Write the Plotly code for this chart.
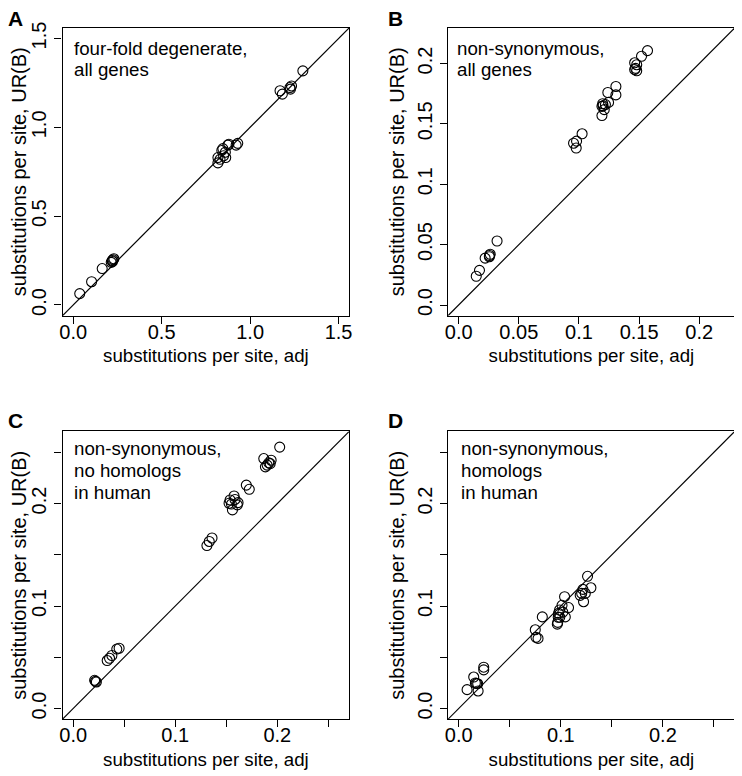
import plotly.graph_objects as go

# ---------------- data ----------------
a_adj = [0.037, 0.104, 0.164, 0.215, 0.220, 0.225, 0.230, 0.222,
         0.818, 0.818, 0.830, 0.850, 0.846, 0.860, 0.874, 0.880, 0.921, 0.930, 0.862, 0.840,
         1.169, 1.182, 1.225, 1.234, 1.228, 1.298]
a_urb = [0.064, 0.131, 0.205, 0.240, 0.250, 0.255, 0.260, 0.245,
         0.800, 0.830, 0.820, 0.840, 0.880, 0.860, 0.900, 0.905, 0.900, 0.910, 0.830, 0.870,
         1.206, 1.187, 1.224, 1.233, 1.215, 1.318]

b_adj = [0.0146, 0.0173, 0.0220, 0.0256, 0.0262, 0.0255, 0.0319,
         0.0955, 0.0977, 0.0980, 0.1026,
         0.1191, 0.1191, 0.1197, 0.1210, 0.1200, 0.1220, 0.1246, 0.1240, 0.1307, 0.1307,
         0.1463, 0.1471, 0.1480, 0.1463, 0.1480, 0.1520, 0.1570]
b_urb = [0.0238, 0.0287, 0.0388, 0.0410, 0.0420, 0.0400, 0.0530,
         0.1340, 0.1300, 0.1357, 0.1418,
         0.1569, 0.1645, 0.1667, 0.1618, 0.1650, 0.1660, 0.1678, 0.1760, 0.1810, 0.1740,
         0.2006, 0.1960, 0.1940, 0.1950, 0.1990, 0.2060, 0.2107]

c_adj = [0.0210, 0.0227, 0.0218, 0.0333, 0.0356, 0.0379, 0.0427, 0.0450,
         0.1310, 0.1333, 0.1360,
         0.1527, 0.1537, 0.1560, 0.1576, 0.1585, 0.1608, 0.1615, 0.1550,
         0.1696, 0.1725,
         0.1867, 0.1883, 0.1900, 0.1916, 0.1939, 0.1930, 0.2023]
c_urb = [0.0275, 0.0259, 0.0265, 0.0468, 0.0490, 0.0517, 0.0580, 0.0588,
         0.1590, 0.1630, 0.1664,
         0.2003, 0.2035, 0.1938, 0.2074, 0.2040, 0.1987, 0.2009, 0.1995,
         0.2180, 0.2139,
         0.2439, 0.2358, 0.2375, 0.2397, 0.2423, 0.2390, 0.2551]

d_adj = [0.0082, 0.0147, 0.0163, 0.0186, 0.0190, 0.0175, 0.0245, 0.0245,
         0.0750, 0.0757, 0.0777, 0.0819,
         0.0966, 0.0970, 0.0978, 0.0988, 0.0975, 0.0990, 0.1012, 0.1037, 0.1044, 0.1076, 0.1020,
         0.1190, 0.1217, 0.1223, 0.1240, 0.1205, 0.1262, 0.1295]
d_urb = [0.0184, 0.0307, 0.0249, 0.0242, 0.0171, 0.0245, 0.0403, 0.0377,
         0.0768, 0.0694, 0.0684, 0.0894,
         0.0823, 0.0840, 0.0929, 0.0961, 0.0890, 0.0890, 0.1007, 0.1091, 0.0894, 0.0985, 0.0940,
         0.1104, 0.1162, 0.1042, 0.1123, 0.1123, 0.1290, 0.1178]

panel_letters = ["A", "B", "C", "D"]
panel_texts = [["four-fold degenerate,", "all genes"],
               ["non-synonymous,", "all genes"],
               ["non-synonymous,", "no homologs", "in human"],
               ["non-synonymous,", "homologs", "in human"]]

ticks_a = [0, 0.5, 1.0, 1.5]
labels_a = ["0.0", "0.5", "1.0", "1.5"]
ticks_b = [0, 0.05, 0.1, 0.15, 0.2]
labels_b = ["0.0", "0.05", "0.1", "0.15", "0.2"]
ticks_cd = [0, 0.05, 0.1, 0.15, 0.2, 0.25]
labels_cd = ["0.0", "", "0.1", "", "0.2", ""]

xlabel = "substitutions per site, adj"
ylabel = "substitutions per site, UR(B)"

# ---------------- layout geometry ----------------
# the page body adds an 8px margin, so the figure is drawn 8px smaller
OFF = 8
W, H = 742 - OFF, 776 - OFF
FONT = "Liberation Sans, Arial, Helvetica, sans-serif"
FS_TICK = 20
FS_TEXT = 18.7


def fx(p):
    return (p - OFF) / W


def fy(p):
    return 1 - (p - OFF) / H


# plot boxes in window pixels: (left, right, top, bottom)
boxes = [(60, 349, 22, 312), (448.7, 737.7, 22, 312),
         (60, 349, 428.7, 718.7), (448.7, 737.7, 428.7, 718.7)]
ranges = [(-0.06, 1.56), (-0.0088, 0.2295), (-0.0104, 0.2704), (-0.0104, 0.2704)]
ticks = [(ticks_a, labels_a), (ticks_b, labels_b), (ticks_cd, labels_cd), (ticks_cd, labels_cd)]
data = [(a_adj, a_urb), (b_adj, b_urb), (c_adj, c_urb), (d_adj, d_urb)]
text_left = [70.5, 456.5, 70.5, 461]
text_base = [[49, 70.5], [48.5, 70.3], [452.2, 474, 496.2], [452.2, 474, 496.2]]
letter_pos = [(4, 20.3), (387, 20.3), (4, 425.5), (387, 425.5)]

fig = go.Figure()
annotations = []
for i in range(4):
    sfx = "" if i == 0 else str(i + 1)
    xs, ys = data[i]
    r0, r1 = ranges[i]
    # identity line y = x across the full axis range
    fig.add_trace(go.Scatter(x=[r0, r1], y=[r0, r1], mode="lines",
                             line=dict(color="black", width=1.2),
                             xaxis="x" + sfx, yaxis="y" + sfx,
                             showlegend=False, hoverinfo="skip"))
    fig.add_trace(go.Scatter(x=xs, y=ys, mode="markers",
                             marker=dict(symbol="circle-open", size=10, color="black",
                                         line=dict(width=1.1, color="black")),
                             xaxis="x" + sfx, yaxis="y" + sfx, showlegend=False))
    l, r, t, b = boxes[i]
    tv, tt = ticks[i]
    common = dict(range=list(ranges[i]), tickvals=tv, ticktext=tt,
                  showline=True, mirror=True, linecolor="black", linewidth=1.3,
                  ticks="outside", ticklen=7, tickwidth=1.1, tickcolor="black",
                  showgrid=False, zeroline=False,
                  tickfont=dict(family=FONT, size=FS_TICK, color="black"))
    fig.layout["xaxis" + sfx] = dict(domain=[fx(l), fx(r)], anchor="y" + sfx,
                                     ticklabelstandoff=-9,
                                     title=dict(text=xlabel, font=dict(family=FONT, size=FS_TEXT, color="black"),
                                                standoff=7),
                                     **common)
    fig.layout["yaxis" + sfx] = dict(domain=[fy(b), fy(t)], anchor="x" + sfx, tickangle=-90,
                                     title=dict(text=ylabel, font=dict(family=FONT, size=20, color="black"),
                                                standoff=3),
                                     **common)
    for line, base in zip(panel_texts[i], text_base[i]):
        annotations.append(dict(text=line, xref="paper", yref="paper",
                                x=fx(text_left[i]), y=fy(base + 5.5),
                                xanchor="left", yanchor="bottom", showarrow=False,
                                borderpad=0,
                                font=dict(family=FONT, size=FS_TEXT, color="black")))
    lx, ly = letter_pos[i]
    annotations.append(dict(text="<b>" + panel_letters[i] + "</b>", xref="paper", yref="paper",
                            x=fx(lx), y=fy(ly + 5), xanchor="left", yanchor="bottom",
                            showarrow=False, borderpad=0,
                            font=dict(family=FONT, size=21, color="black")))

fig.update_layout(width=W, height=H, margin=dict(l=0, r=0, t=0, b=0),
                  paper_bgcolor="white", plot_bgcolor="white",
                  annotations=annotations, showlegend=False)

fig.write_html("out.html")
